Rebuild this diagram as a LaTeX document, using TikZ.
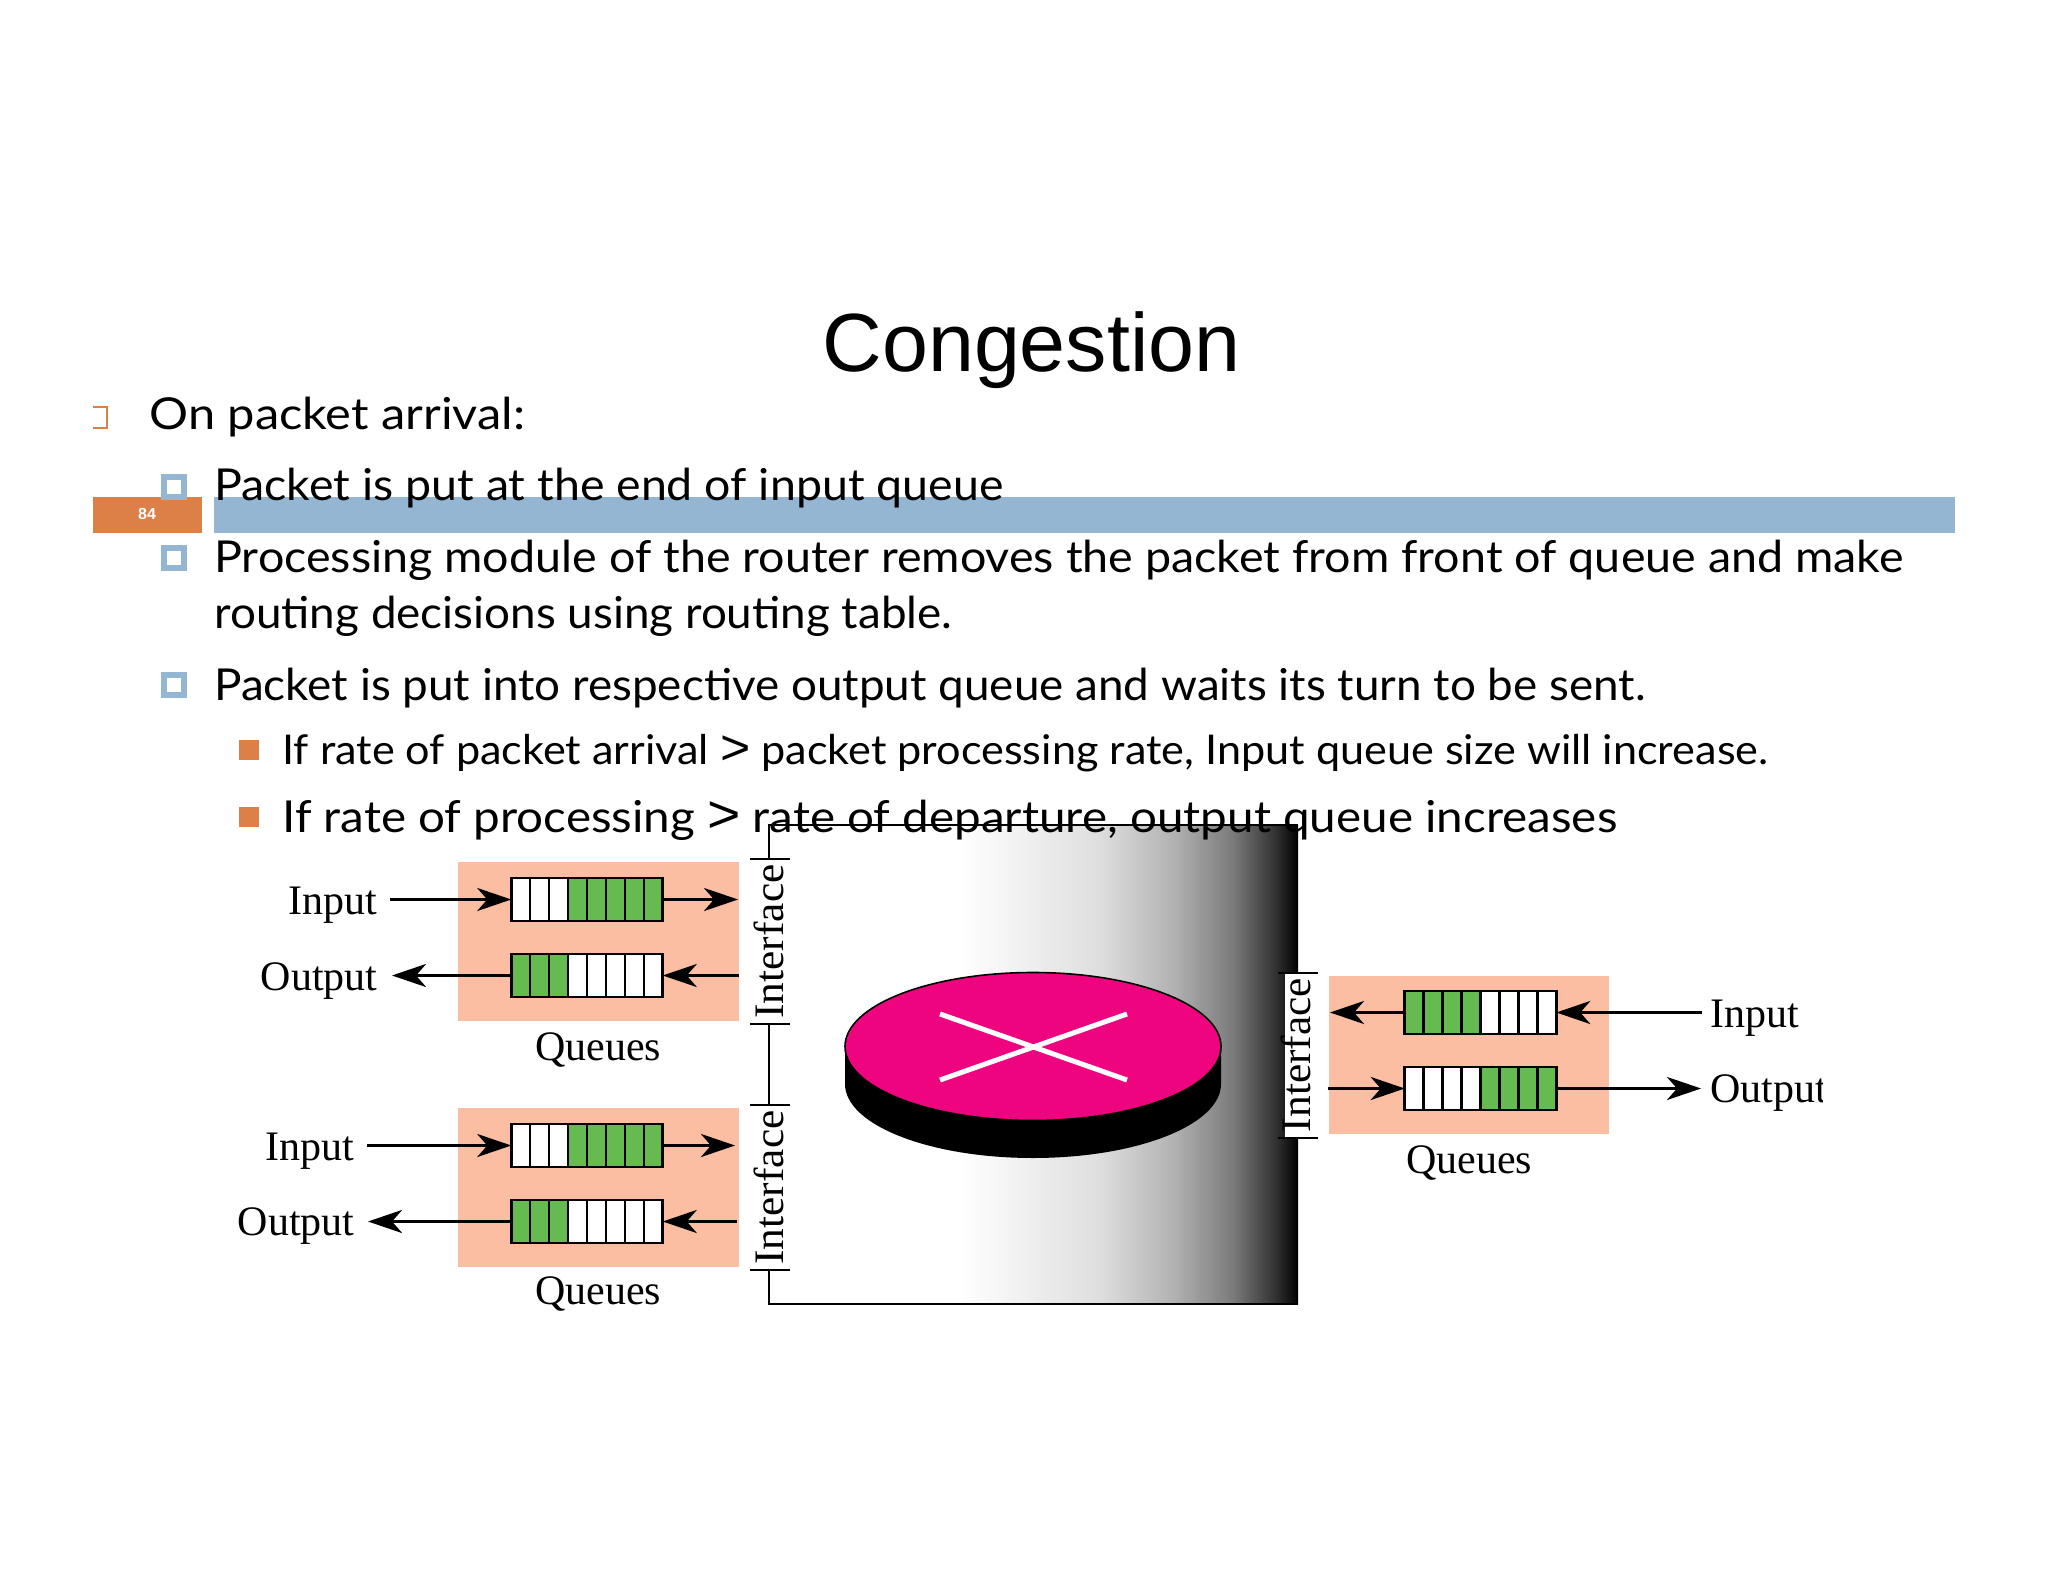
\documentclass[tikz,border=0pt]{standalone}
\usepackage{fontspec}
\usepackage{graphicx}
\setmainfont{Lato}
\newfontfamily\titlefont{Liberation Sans}
\newfontfamily\figfont{Liberation Serif}
\usetikzlibrary{arrows.meta,calc,shapes.geometric}
\definecolor{barblue}{HTML}{94B6D2}
\definecolor{barorange}{HTML}{DD8047}
\definecolor{peach}{HTML}{FBBEA3}
\definecolor{qgreen}{HTML}{66BB50}
\definecolor{diskpink}{HTML}{EE047E}
\pgfdeclarehorizontalshading{panelshade}{100bp}{
  color(0bp)=(white); color(25bp)=(white);
  color(45.7bp)=(black!13); color(56.5bp)=(black!30);
  color(65.4bp)=(black!52); color(71.9bp)=(black!82);
  color(75bp)=(black); color(100bp)=(black)}
\newcommand\fitw[2]{\resizebox{#1}{\height}{#2}}
\newcommand\bigger{{\titlefont\scalebox{1.2}{>}}}
\newcommand\qbox[5]{%
  \node[queuebox] (#1) at (#2,#3) {};
  \fill[qgreen] ($(#1.south west)+(18.94*#4,0)$) rectangle ($(#1.north west)+(18.94*#5,0)$);
  \foreach \i in {1,...,7} \draw[qline] ($(#1.south west)+(18.94*\i,0)$) -- ($(#1.north west)+(18.94*\i,0)$);
  \draw[qline] (#1.south west) rectangle (#1.north east);
}
\tikzset{
  x=0.5pt,y=-0.5pt,
  queuebox/.style={fill=white,minimum width=75.75pt,minimum height=21.5pt,inner sep=0pt,outer sep=0pt},
  qline/.style={draw=black,line width=1.3pt},
  flow/.style={line width=1.9pt,-{Stealth[length=17pt,width=11.5pt,inset=5pt]},shorten >=0pt},
  slidetext/.style={anchor=base west,inner sep=0pt,font=\fontsize{22}{26}\selectfont},
  smalltext/.style={anchor=base west,inner sep=0pt,font=\fontsize{20.5}{24}\selectfont},
  figlabel/.style={inner sep=0pt,font=\figfont\fontsize{21}{24}\selectfont},
  bracketline/.style={line width=1.4pt,draw=black},
  bluebullet/.style={draw=barblue,line width=3pt,fill=white,minimum size=10pt,inner sep=0pt,outer sep=0pt},
  orangebullet/.style={fill=barorange,minimum size=10pt,inner sep=0pt,outer sep=0pt},
}
\begin{document}
\begin{tikzpicture}
\useasboundingbox (0,0) rectangle (2048,1582);
\fill[white] (0,0) rectangle (2048,1582);
% slide band
\fill[barorange] (93,497) rectangle (202,533);
\fill[barblue] (214,497) rectangle (1955,533);
\node[inner sep=0pt,text=white,font=\titlefont\bfseries\fontsize{8}{9}\selectfont] (pagenum) at (147,514) {84};
% title
\node[anchor=base,inner sep=0pt,font=\titlefont\fontsize{41.3}{48}\selectfont] (title) at (1031.5,372) {Congestion};
% bullets
\draw[barorange,line width=0.8pt] (93,407) -- (107,407) -- (107,428) -- (93,428);
\node[bluebullet] (b1) at (173.5,487) {};
\node[bluebullet] (b2) at (173.5,558) {};
\node[bluebullet] (b3) at (173.5,685) {};
\node[orangebullet] (b4) at (249,750) {};
\node[orangebullet] (b5) at (249,817) {};
% text
\node[slidetext] (t1) at (149,430) {\fitw{188pt}{On packet arrival:}};
\node[slidetext] (t2) at (214,501) {\fitw{394.5pt}{Packet is put at the end of input queue}};
\node[slidetext] (t3) at (214,573) {\fitw{844.5pt}{Processing module of the router removes the packet from front of queue and make}};
\node[slidetext] (t4) at (214,628) {\fitw{369pt}{routing decisions using routing table.}};
\node[slidetext] (t5) at (214,700) {\fitw{715.5pt}{Packet is put into respective output queue and waits its turn to be sent.}};
\node[smalltext] (t6) at (282,764) {\fitw{743pt}{If rate of packet arrival \bigger{} packet processing rate, Input queue size will increase.}};
% router panel
\fill[white] (769,825) rectangle (960,1304);
\shade[shading=panelshade] (960,825) rectangle (1298,1304);
\draw[bracketline] (769,859) -- (769,825) -- (1298,825);
\draw[bracketline] (769,1024) -- (769,1105);
\draw[bracketline] (769,1270) -- (769,1304) -- (1298,1304);
\node[slidetext] (t7) at (282,832) {\fitw{667.5pt}{If rate of processing \bigger{} rate of departure, output queue increases}};
\foreach \y in {859,1024,1105,1270} \draw[bracketline] (750,\y) -- (790,\y);
% disk
\fill[black] (845,1046) -- (845,1084) arc[start angle=180,end angle=0,x radius=188,y radius=74] -- (1221,1046) -- cycle;
\node[draw=black,line width=0.8pt,fill=diskpink,ellipse,minimum width=188pt,minimum height=74pt,inner sep=0pt] (disk) at (1033,1046.5) {};
\draw[white,line width=2.5pt] (940,1014) -- (1127,1080);
\draw[white,line width=2.5pt] (940,1080) -- (1127,1014);
% interface labels
\node[figlabel,rotate=90,anchor=base] (if1) at (783.5,941.5) {\fitw{77pt}{Interface}};
\node[figlabel,rotate=90,anchor=base] (if2) at (783.5,1187.5) {\fitw{77pt}{Interface}};
\fill[white] (1285,973) rectangle (1312,1138);
\node[figlabel,rotate=90,anchor=base] (if3) at (1310,1055) {\fitw{77pt}{Interface}};
\draw[bracketline] (1278,973) -- (1318,973);
\draw[bracketline] (1278,1138) -- (1318,1138);
% peach boxes
\fill[peach] (457.5,862) rectangle (739,1021);
\fill[peach] (457.5,1108) rectangle (739,1267);
\fill[peach] (1328.5,976) rectangle (1609,1134);
% queues
\qbox{q1}{587}{899.5}{3}{8}
\qbox{q2}{587}{975.5}{0}{3}
\qbox{q3}{587}{1145.5}{3}{8}
\qbox{q4}{587}{1221.5}{0}{3}
\qbox{q5}{1480.5}{1012.5}{0}{4}
\qbox{q6}{1480.5}{1088.5}{4}{8}
% free ends
\coordinate (a1) at (390,899.5);
\coordinate (a2) at (738,899.5);
\coordinate (a3) at (392,975.5);
\coordinate (a4) at (739,975.5);
\coordinate (a5) at (367,1145.5);
\coordinate (a6) at (735,1145.5);
\coordinate (a7) at (368,1221.5);
\coordinate (a8) at (737,1221.5);
\coordinate (a9) at (1330,1012.5);
\coordinate (a10) at (1702,1012.5);
\coordinate (a11) at (1328,1088.5);
\coordinate (a12) at (1701,1088.5);
% connectors
\draw[flow] (a1) -- (q1.west);
\draw[flow] (q1.east) -- (a2);
\draw[flow] (q2.west) -- (a3);
\draw[flow] (a4) -- (q2.east);
\draw[flow] (a5) -- (q3.west);
\draw[flow] (q3.east) -- (a6);
\draw[flow] (q4.west) -- (a7);
\draw[flow] (a8) -- (q4.east);
\draw[flow] (q5.west) -- (a9);
\draw[flow] (a10) -- (q5.east);
\draw[flow] (a11) -- (q6.west);
\draw[flow] (q6.east) -- (a12);
% labels
\node[figlabel,anchor=base east] (l1) at (378,914) {Input};
\node[figlabel,anchor=base east] (l2) at (378,990) {Output};
\node[figlabel,anchor=base east] (l3) at (355,1160) {Input};
\node[figlabel,anchor=base east] (l4) at (355,1235) {Output};
\node[figlabel,anchor=base] (l5) at (598,1060) {Queues};
\node[figlabel,anchor=base] (l6) at (598,1304) {Queues};
\node[figlabel,anchor=base] (l7) at (1469,1173) {Queues};
\node[figlabel,anchor=base west] (l8) at (1710,1027) {Input};
\begin{scope}
\clip (1700,1060) rectangle (1822,1130);
\node[figlabel,anchor=base west] (l9) at (1710,1102) {Output};
\end{scope}
\end{tikzpicture}
\end{document}
